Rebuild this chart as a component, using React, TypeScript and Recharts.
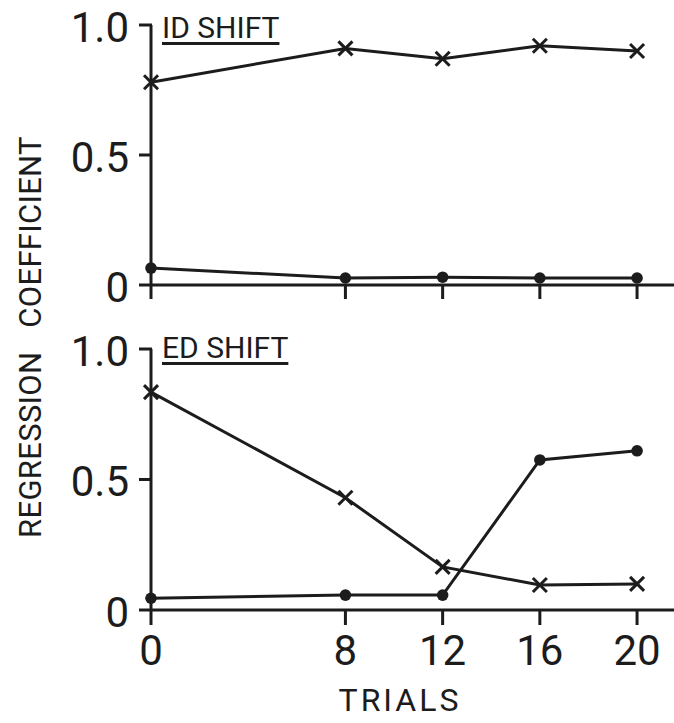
import React from 'react';
import { LineChart, Line, XAxis, YAxis } from 'recharts';

const trials = [0, 8, 12, 16, 20];
const idShiftCross = [0.78, 0.91, 0.87, 0.92, 0.9];
const idShiftDot = [0.065, 0.027, 0.03, 0.027, 0.027];
const edShiftCross = [0.835, 0.43, 0.165, 0.096, 0.1];
const edShiftDot = [0.045, 0.057, 0.057, 0.575, 0.61];
const yTicks = [0, 0.5, 1.0];
const yTickLabels = ['0', '0.5', '1.0'];
const panelTitles = ['ID SHIFT', 'ED SHIFT'];
const xTitle = 'TRIALS';
const yTitle = 'REGRESSION COEFFICIENT';

const INK = '#1c1c1c';
const FONT = 'Roboto, "Noto Sans", sans-serif';

const build = (a: number[], b: number[]) =>
  trials.map((t, i) => ({ t, cross: a[i], dot: b[i] }));

const topData = build(idShiftCross, idShiftDot);
const bottomData = build(edShiftCross, edShiftDot);

const CrossDot = (props: any) => {
  const { cx, cy, key } = props;
  if (cx == null || cy == null) return <g key={key} />;
  const s = 7;
  return (
    <g key={key}>
      <line x1={cx - s} y1={cy - s} x2={cx + s} y2={cy + s} stroke={INK} strokeWidth={3} />
      <line x1={cx - s} y1={cy + s} x2={cx + s} y2={cy - s} stroke={INK} strokeWidth={3} />
    </g>
  );
};

const FilledDot = (props: any) => {
  const { cx, cy, key } = props;
  if (cx == null || cy == null) return <g key={key} />;
  return <circle key={key} cx={cx} cy={cy} r={5.8} fill={INK} stroke="none" />;
};

const fmtY = (v: number) => {
  const idx = yTicks.indexOf(v);
  return idx >= 0 ? yTickLabels[idx] : String(v);
};

const YTick = (props: any) => {
  const { x, y, payload } = props;
  return (
    <g>
      <path d={`M${x + 10},${y}H${x + 23}`} stroke={INK} strokeWidth={3} fill="none" />
      <text x={x} y={y} dy="0.4em" textAnchor="end" fill={INK} fontSize={42} fontFamily={FONT}>
        {fmtY(payload.value)}
      </text>
    </g>
  );
};

const XTickEmpty = (props: any) => {
  const { x, y } = props;
  return (
    <g>
      <path d={`M${x},${y - 25}V${y - 11}`} stroke={INK} strokeWidth={3} fill="none" />
    </g>
  );
};

const XTickLabel = (props: any) => {
  const { x, y, payload } = props;
  return (
    <g>
      <path d={`M${x},${y - 25}V${y - 10}`} stroke={INK} strokeWidth={3} fill="none" />
      <text x={x} y={y} dy="0.71em" textAnchor="middle" fill={INK} fontSize={42} fontFamily={FONT}>
        {payload.value}
      </text>
    </g>
  );
};

const xDomain: [number, number] = [0, 21.52];

function Panel({
  data,
  height,
  marginTop,
  xAxisHeight,
  showXLabels,
}: {
  data: any[];
  height: number;
  marginTop: number;
  xAxisHeight: number;
  showXLabels: boolean;
}) {
  return (
    <LineChart
      width={674}
      height={height}
      data={data}
      margin={{ top: marginTop, right: 0, bottom: 0, left: 0 }}
    >
      <XAxis
        dataKey="t"
        type="number"
        domain={xDomain}
        ticks={trials}
        height={xAxisHeight}
        tickSize={13}
        tickMargin={12}
        axisLine={{ stroke: INK, strokeWidth: 3 }}
        tickLine={false}
        tick={showXLabels ? <XTickLabel /> : <XTickEmpty />}
        interval={0}
      />
      <YAxis
        type="number"
        domain={[0, 1]}
        ticks={yTicks}
        width={151}
        tickSize={12}
        tickMargin={10}
        axisLine={{ stroke: INK, strokeWidth: 3 }}
        tickLine={false}
        tick={<YTick />}
        interval={0}
      />
      <Line
        type="linear"
        dataKey="dot"
        stroke={INK}
        strokeWidth={3}
        dot={FilledDot}
        activeDot={false}
        isAnimationActive={false}
      />
      <Line
        type="linear"
        dataKey="cross"
        stroke={INK}
        strokeWidth={3}
        dot={CrossDot}
        activeDot={false}
        isAnimationActive={false}
      />
    </LineChart>
  );
}

const titleStyle = (top: number): React.CSSProperties => ({
  position: 'absolute',
  left: 162,
  top,
  fontFamily: FONT,
  fontSize: 30,
  lineHeight: '30px',
  color: INK,
  textDecoration: 'underline',
  textDecorationThickness: '3px',
  textUnderlineOffset: '4px',
  whiteSpace: 'nowrap',
});

export default function App() {
  return (
    <div
      style={{
        position: 'absolute',
        left: 0,
        top: 0,
        width: 674,
        height: 723,
        background: '#ffffff',
        overflow: 'hidden',
      }}
    >
      <div style={{ position: 'absolute', left: 0, top: 0 }}>
        <Panel
          data={topData}
          height={320}
          marginTop={25}
          xAxisHeight={35}
          showXLabels={false}
        />
      </div>
      <div style={{ position: 'absolute', left: 0, top: 300 }}>
        <Panel
          data={bottomData}
          height={380}
          marginTop={49}
          xAxisHeight={70}
          showXLabels={true}
        />
      </div>
      <div style={titleStyle(13)}>{panelTitles[0]}</div>
      <div style={titleStyle(333)}>{panelTitles[1]}</div>
      <div
        style={{
          position: 'absolute',
          left: 400,
          top: 684,
          transform: 'translateX(-50%)',
          fontFamily: FONT,
          fontSize: 32,
          lineHeight: '32px',
          letterSpacing: 3,
          color: INK,
          whiteSpace: 'nowrap',
        }}
      >
        {xTitle}
      </div>
      <div
        style={{
          position: 'absolute',
          left: 30,
          top: 337,
          transform: 'translate(-50%, -50%) rotate(-90deg)',
          fontFamily: FONT,
          fontSize: 31,
          lineHeight: '31px',
          letterSpacing: 0.3,
          wordSpacing: 16,
          color: INK,
          whiteSpace: 'nowrap',
        }}
      >
        {yTitle}
      </div>
    </div>
  );
}
